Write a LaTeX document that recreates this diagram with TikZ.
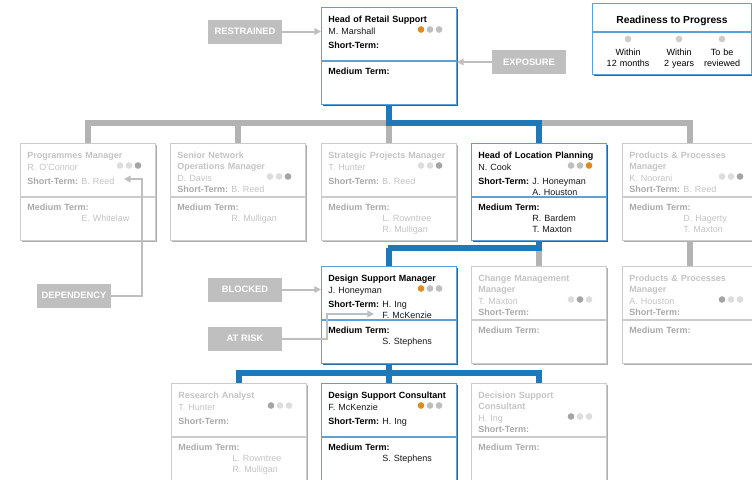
\documentclass[tikz,border=0pt]{standalone}
\usepackage{fontspec}
\setmainfont{Liberation Sans}
\usetikzlibrary{arrows.meta,positioning,calc,shadows}
\definecolor{LinkBlue}{HTML}{1F78B8}
\definecolor{CardBlue}{HTML}{5AA2D8}
\definecolor{ShadeBlue}{HTML}{2469A0}
\definecolor{LinkGray}{HTML}{B3B3B3}
\definecolor{CardGray}{HTML}{CCCCCC}
\definecolor{ShadeGray}{HTML}{AEAEAE}
\definecolor{FlagGray}{HTML}{BFBFBF}
\definecolor{Amber}{HTML}{E38A1C}
\definecolor{DotGray}{HTML}{BEBEBE}
\definecolor{DotLight}{HTML}{DDDDDD}
\definecolor{DotDark}{HTML}{A5A5A5}
\definecolor{FadeText}{HTML}{C4C4C4}
\definecolor{FadeLabel}{HTML}{A9A9A9}
\newcommand{\cardfont}{\fontsize{6.75}{8.5}\selectfont}
% #1 name, #2 top left, #3 on/off, #4 title, #5 holder, #6 dots, #7 short term, #8 medium term, #9 title lines
\newcommand{\orgcard}[9]{%
  \pgfmathsetmacro{\nameY}{27+11*(#9-1)}%
  \pgfmathsetmacro{\shortY}{41+8*(#9-1)}%
  \node[#3 card] (#1) at (#2) {};
  \draw[#3 rule] ($(#1.north west)+(0,54)$) -- ($(#1.north east)+(0,54)$);
  \node[#3 title] (#1-t) at ($(#1.north west)+(7,15)$) {#4};
  \node[#3 text] (#1-n) at ($(#1.north west)+(7,\nameY)$) {#5};
  \foreach \c [count=\i] in {#6}
    \fill[\c] ($(#1.north west)+(91+9*\i,\nameY-4.5)$) circle[radius=2.5pt];
  \node[#3 label] (#1-sl) at ($(#1.north west)+(7,\shortY)$) {Short-Term:};
  \node[#3 text] (#1-st) at ($(#1.north west)+(61,\shortY)$) {#7};
  \node[#3 label] (#1-ml) at ($(#1.north west)+(7,67)$) {Medium Term:};
  \node[#3 text] (#1-mt) at ($(#1.north west)+(61,78)$) {#8};
}

\begin{document}
\begin{tikzpicture}[x=0.75pt,y=-0.75pt,
  card/.style={draw,line width=0.8pt,fill=white,anchor=north west,inner sep=0pt,
    minimum width=101.25pt,minimum height=72.75pt},
  on card/.style={card,draw=CardBlue,
    drop shadow={shadow xshift=0.9pt,shadow yshift=-0.9pt,fill=ShadeBlue,opacity=1}},
  off card/.style={card,draw=CardGray,
    drop shadow={shadow xshift=0.9pt,shadow yshift=-0.9pt,fill=ShadeGray,opacity=1}},
  on rule/.style={draw=CardBlue,line width=0.8pt},
  off rule/.style={draw=CardGray,line width=0.8pt},
  txt/.style={anchor=base west,inner sep=0pt,text width=95pt,align=left,font=\cardfont},
  on title/.style={txt,font=\cardfont\bfseries},
  off title/.style={txt,font=\cardfont\bfseries,text=FadeText},
  on text/.style={txt,text=black!90},
  off text/.style={txt,text=FadeText},
  on label/.style={txt,font=\cardfont\bfseries},
  off label/.style={txt,font=\cardfont\bfseries,text=FadeLabel},
  link/.style={line width=4.5pt},
  on link/.style={link,draw=LinkBlue},
  off link/.style={link,draw=LinkGray},
  flag/.style={fill=FlagGray,text=white,font=\fontsize{7}{8}\selectfont\bfseries,
    inner sep=0pt,minimum width=55.5pt,minimum height=18pt},
  flag link/.style={draw=FlagGray,line width=1.5pt,-{Triangle[length=5pt,width=5pt]}},
  key text/.style={anchor=base,inner sep=0pt,text width=45pt,align=center,font=\cardfont}]
  \useasboundingbox (0,0) rectangle (752,479);
  \clip (0,0) rectangle (752,479);

  \coordinate (bus1) at (388,123);
  \coordinate (bus2) at (388,248);
  \coordinate (bus3) at (388,373);

  % cards
  \orgcard{hrs}{321,7}{on}{Head of Retail Support}{M. Marshall}{Amber,DotGray,DotGray}{}{}{1}
  \orgcard{pgm}{20,143}{off}{Programmes Manager}{R. O'Connor}{DotLight,DotLight,DotDark}{B. Reed}{E. Whitelaw}{1}
  \orgcard{snom}{170,143}{off}{Senior Network\\Operations Manager}{D. Davis}{DotLight,DotLight,DotDark}{B. Reed}{R. Mulligan}{2}
  \orgcard{spm}{321,143}{off}{Strategic Projects Manager}{T. Hunter}{DotLight,DotLight,DotDark}{B. Reed}{L. Rowntree\\R. Mulligan}{1}
  \orgcard{hlp}{471,143}{on}{Head of Location Planning}{N. Cook}{DotGray,DotGray,Amber}{J. Honeyman\\A. Houston}{R. Bardem\\T. Maxton}{1}
  \orgcard{ppm}{622,143}{off}{Products \& Processes\\Manager}{K. Noorani}{DotLight,DotLight,DotDark}{B. Reed}{D. Hagerty\\T. Maxton}{2}
  \orgcard{dsm}{321,266}{on}{Design Support Manager}{J. Honeyman}{Amber,DotGray,DotGray}{H. Ing\\F. McKenzie}{S. Stephens}{1}
  \orgcard{cmm}{471,266}{off}{Change Management\\Manager}{T. Maxton}{DotLight,DotDark,DotLight}{}{}{2}
  \orgcard{pph}{622,266}{off}{Products \& Processes\\Manager}{A. Houston}{DotDark,DotLight,DotLight}{}{}{2}
  \orgcard{ra}{171,383}{off}{Research Analyst}{T. Hunter}{DotDark,DotLight,DotLight}{}{L. Rowntree\\R. Mulligan}{1}
  \orgcard{dscon}{321,383}{on}{Design Support Consultant}{F. McKenzie}{Amber,DotGray,DotGray}{H. Ing}{S. Stephens}{1}
  \orgcard{decon}{471,383}{off}{Decision Support\\Consultant}{H. Ing}{DotDark,DotLight,DotLight}{}{}{2}

  % reporting lines
  \draw[off link] (pgm.north) |- (bus1) -| (ppm.north);
  \foreach \k in {snom,spm,hlp}
    \draw[off link] (\k.north) -- (\k.north |- bus1);
  \draw[on link] (hrs.south) -- (hrs.south |- bus1) -| (hlp.north);
  \draw[off link] (ppm.south) -- (pph.north);
  \draw[off link] (hlp.south |- bus2) -- (cmm.north);
  \draw[on link] (hlp.south) |- (bus2) -| (dsm.north);
  \draw[on link] (ra.north) |- (bus3) -| (decon.north);
  \draw[on link] (dsm.south) -- (dscon.north);

  % legend
  \node[on card,minimum width=119.25pt,minimum height=53.25pt] (legend) at (592,3) {};
  \draw[on rule] ($(legend.north west)+(0,29)$) -- ($(legend.north east)+(0,29)$);
  \node[anchor=base,inner sep=0pt,font=\fontsize{7.7}{9}\selectfont\bfseries]
    (legend-t) at ($(legend.north)+(0,20)$) {Readiness to Progress};
  \foreach \xx/\txt [count=\i] in {628/Within\\12 months,679/Within\\2 years,722/To be\\reviewed}{
    \fill[CardGray] (\xx,39) circle[radius=2.5pt];
    \node[key text] (key\i) at (\xx,55.5) {\txt};
  }

  % flags
  \node[flag] (restr) at (245,31.5) {RESTRAINED};
  \node[flag] (expo) at (529,62) {EXPOSURE};
  \node[flag] (blk) at (245,289.5) {BLOCKED};
  \node[flag] (risk) at (245,338.5) {AT RISK};
  \node[flag] (dep) at (74,295.5) {DEPENDENCY};
  \coordinate (riskbend) at (327,314);
  \coordinate (riskend) at (374,314);
  \coordinate (depbend) at (142,179);
  \coordinate (depend) at (124,179);
  \draw[flag link] (restr.east) -- (restr.east -| hrs.west);
  \draw[flag link] (expo.west) -- (expo.west -| hrs.east);
  \draw[flag link] (blk.east) -- (blk.east -| dsm.west);
  \draw[flag link] (risk.east) -| (riskbend) -- (riskend);
  \draw[flag link] (dep.east) -| (depbend) -- (depend);
\end{tikzpicture}
\end{document}
